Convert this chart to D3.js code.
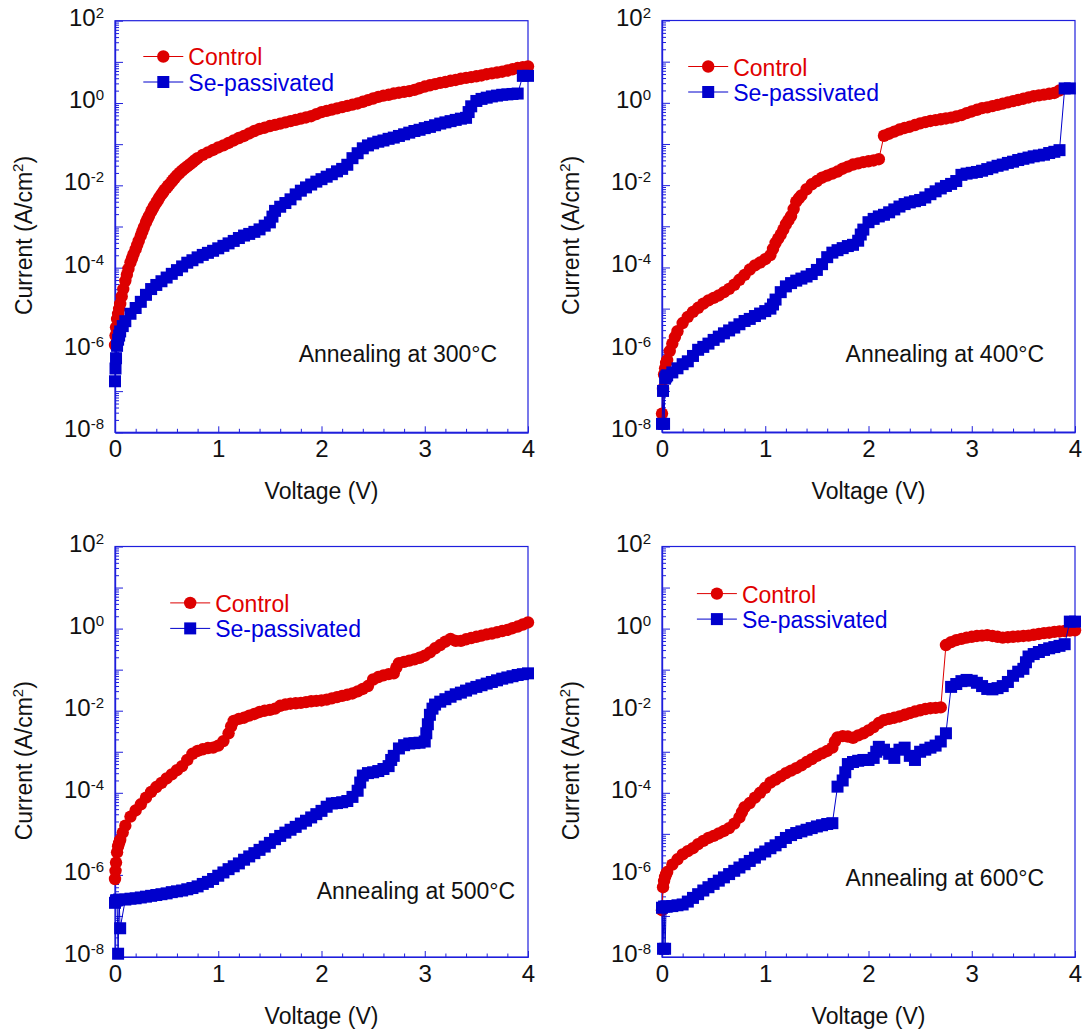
<!DOCTYPE html>
<html>
<head>
<meta charset="utf-8">
<title>J-V curves</title>
<script src="https://cdn.jsdelivr.net/npm/d3@7"></script>
<style>
  body { margin: 0; background: #fff; }
  text { font-family: Arial, "Liberation Sans", Helvetica, sans-serif; }
</style>
</head>
<body>
<div id="chart"></div>
<script>
// voltage grid shared by every sweep (V)
var volts = [0, 0.01, 0.02, 0.03, 0.04, 0.05,
  0.1, 0.15, 0.2, 0.25, 0.3, 0.35, 0.4, 0.45, 0.5, 0.55,
  0.6, 0.65, 0.7, 0.75, 0.8, 0.85, 0.9, 0.95, 1.0, 1.05,
  1.1, 1.15, 1.2, 1.25, 1.3, 1.35, 1.4, 1.45, 1.5, 1.55,
  1.6, 1.65, 1.7, 1.75, 1.8, 1.85, 1.9, 1.95, 2.0, 2.05,
  2.1, 2.15, 2.2, 2.25, 2.3, 2.35, 2.4, 2.45, 2.5, 2.55,
  2.6, 2.65, 2.7, 2.75, 2.8, 2.85, 2.9, 2.95, 3.0, 3.05,
  3.1, 3.15, 3.2, 3.25, 3.3, 3.35, 3.4, 3.45, 3.5, 3.55,
  3.6, 3.65, 3.7, 3.75, 3.8, 3.85, 3.9, 3.95, 4.0];

// current density, stored as log10(J / A cm^-2)
var ctrl300 = [-5.88, -5.45, -5.25, -5.12, -5.0, -4.88,
  -4.32, -3.87, -3.55, -3.22, -2.9, -2.64, -2.42, -2.22, -2.06, -1.91,
  -1.76, -1.64, -1.54, -1.44, -1.34, -1.26, -1.2, -1.14, -1.08, -1.03,
  -0.97, -0.91, -0.85, -0.8, -0.74, -0.68, -0.63, -0.6, -0.56, -0.53,
  -0.5, -0.47, -0.44, -0.41, -0.38, -0.35, -0.32, -0.27, -0.22, -0.19,
  -0.16, -0.13, -0.1, -0.07, -0.04, -0.01, 0.03, 0.07, 0.11, 0.15,
  0.18, 0.2, 0.23, 0.25, 0.27, 0.29, 0.32, 0.36, 0.4, 0.43,
  0.46, 0.49, 0.51, 0.54, 0.56, 0.59, 0.61, 0.63, 0.65, 0.67,
  0.7, 0.72, 0.74, 0.76, 0.79, 0.82, 0.85, 0.87, 0.89];
var sep300 = [-6.76, -6.2, -5.9, -5.75, -5.65, -5.55,
  -5.3, -5.12, -4.98, -4.83, -4.66, -4.52, -4.42, -4.33, -4.24, -4.15,
  -4.06, -3.97, -3.88, -3.82, -3.75, -3.69, -3.64, -3.59, -3.53, -3.47,
  -3.41, -3.35, -3.28, -3.22, -3.18, -3.13, -3.07, -2.98, -2.9, -2.62,
  -2.52, -2.43, -2.34, -2.22, -2.13, -2.05, -1.98, -1.91, -1.85, -1.79,
  -1.73, -1.66, -1.6, -1.5, -1.34, -1.22, -1.1, -1.03, -0.98, -0.94,
  -0.91, -0.87, -0.84, -0.8, -0.76, -0.72, -0.68, -0.65, -0.61, -0.58,
  -0.54, -0.5, -0.47, -0.44, -0.41, -0.38, -0.36, -0.08, 0.05, 0.1,
  0.13, 0.16, 0.18, 0.2, 0.21, 0.22, 0.23, 0.66, 0.66];

var ctrl400 = [-7.55, -6.95, -6.6, -6.45, -6.32, -6.25,
  -5.85, -5.55, -5.35, -5.2, -5.08, -4.98, -4.88, -4.8, -4.74, -4.68,
  -4.6, -4.52, -4.42, -4.3, -4.18, -4.05, -3.95, -3.88, -3.8, -3.7,
  -3.4, -3.2, -2.95, -2.75, -2.4, -2.25, -2.1, -1.98, -1.9, -1.82,
  -1.77, -1.72, -1.67, -1.6, -1.55, -1.5, -1.47, -1.44, -1.42, -1.4,
  -1.37, -0.8, -0.75, -0.7, -0.65, -0.61, -0.58, -0.54, -0.5, -0.47,
  -0.44, -0.42, -0.4, -0.38, -0.36, -0.33, -0.3, -0.25, -0.21, -0.17,
  -0.13, -0.11, -0.08, -0.05, -0.02, 0.01, 0.04, 0.07, 0.1, 0.13,
  0.16, 0.18, 0.2, 0.22, 0.24, 0.3, null, null, null];
var sep400 = [-7.8, -7.0, -7.8, -6.7, -6.65, -6.62,
  -6.55, -6.45, -6.35, -6.28, -6.15, -6.0, -5.93, -5.85, -5.76, -5.68,
  -5.6, -5.53, -5.46, -5.38, -5.3, -5.25, -5.18, -5.12, -5.06, -5.0,
  -4.78, -4.6, -4.46, -4.38, -4.32, -4.27, -4.22, -4.16, -4.06, -3.92,
  -3.75, -3.64, -3.58, -3.53, -3.48, -3.45, -3.35, -3.08, -2.9, -2.82,
  -2.76, -2.72, -2.66, -2.59, -2.52, -2.46, -2.42, -2.39, -2.36, -2.3,
  -2.22, -2.15, -2.08, -2.02, -1.97, -1.9, -1.75, -1.72, -1.7, -1.68,
  -1.65, -1.61, -1.57, -1.53, -1.5, -1.46, -1.43, -1.39, -1.36, -1.33,
  -1.3, -1.28, -1.26, -1.22, -1.19, -1.15, 0.35, 0.35, null];

var ctrl500 = [-6.1, -5.7, -5.45, -5.3, -5.22, -5.15,
  -4.8, -4.58, -4.43, -4.28, -4.12, -3.98, -3.86, -3.76, -3.65, -3.55,
  -3.45, -3.35, -3.2, -3.05, -2.98, -2.94, -2.91, -2.9, -2.85, -2.74,
  -2.55, -2.25, -2.2, -2.17, -2.12, -2.08, -2.03, -2.0, -1.98, -1.95,
  -1.88, -1.85, -1.83, -1.82, -1.81, -1.79, -1.77, -1.76, -1.75, -1.73,
  -1.7, -1.67, -1.64, -1.61, -1.58, -1.53, -1.47, -1.4, -1.24, -1.18,
  -1.14, -1.11, -1.09, -0.84, -0.81, -0.78, -0.75, -0.71, -0.66, -0.58,
  -0.48, -0.4, -0.32, -0.25, -0.3, -0.3, -0.26, -0.23, -0.2, -0.17,
  -0.14, -0.12, -0.09, -0.06, -0.03, 0.01, 0.05, 0.1, 0.15];
var sep500 = [-6.68, -6.62, -6.62, -7.92, -6.6, -7.3,
  -6.6, -6.58, -6.57, -6.55, -6.53, -6.51, -6.49, -6.47, -6.45, -6.42,
  -6.4, -6.38, -6.35, -6.32, -6.28, -6.22, -6.17, -6.1, -6.02, -5.94,
  -5.86, -5.79, -5.72, -5.63, -5.55, -5.47, -5.39, -5.31, -5.22, -5.13,
  -5.05, -4.97, -4.9, -4.83, -4.75, -4.68, -4.6, -4.52, -4.44, -4.34,
  -4.26, -4.25, -4.23, -4.2, -4.1, -3.95, -3.58, -3.52, -3.5, -3.47,
  -3.42, -3.35, -3.1, -2.92, -2.84, -2.8, -2.79, -2.78, -2.75, -2.1,
  -1.85, -1.78, -1.72, -1.66, -1.6, -1.56, -1.51, -1.46, -1.42, -1.38,
  -1.34, -1.3, -1.26, -1.22, -1.19, -1.16, -1.13, -1.11, -1.09];

var ctrl600 = [-6.86, -6.3, -6.15, -6.05, -5.98, -5.93,
  -5.75, -5.62, -5.5, -5.42, -5.35, -5.25, -5.17, -5.1, -5.05, -4.99,
  -4.93, -4.86, -4.75, -4.6, -4.35, -4.25, -4.12, -4.0, -3.88, -3.75,
  -3.68, -3.6, -3.52, -3.46, -3.4, -3.33, -3.25, -3.18, -3.1, -3.04,
  -2.98, -2.9, -2.65, -2.62, -2.63, -2.66, -2.6, -2.55, -2.48, -2.4,
  -2.3, -2.23, -2.2, -2.17, -2.14, -2.1, -2.06, -2.02, -1.99, -1.96,
  -1.94, -1.93, -1.92, -0.4, -0.33, -0.28, -0.25, -0.22, -0.2, -0.18,
  -0.17, -0.16, -0.18, -0.2, -0.22, -0.21, -0.2, -0.19, -0.18, -0.17,
  -0.15, -0.13, -0.11, -0.1, -0.08, -0.07, -0.06, -0.05, -0.04];
var sep600 = [-6.8, -7.8, -6.77, -7.8, -6.77, -6.77,
  -6.76, -6.74, -6.72, -6.65, -6.56, -6.47, -6.38, -6.3, -6.22, -6.14,
  -6.06, -5.98, -5.9, -5.82, -5.74, -5.66, -5.58, -5.5, -5.43, -5.35,
  -5.28, -5.2, -5.1, -5.03, -4.98, -4.94, -4.9, -4.86, -4.82, -4.79,
  -4.76, -4.74, -3.85, -3.7, -3.3, -3.25, -3.22, -3.2, -3.2, -3.15,
  -2.88, -2.95, -3.05, -3.15, -2.95, -2.9, -3.1, -3.2, -3.0, -2.95,
  -2.9, -2.85, -2.75, -2.55, -1.42, -1.35, -1.28, -1.25, -1.27, -1.32,
  -1.4, -1.47, -1.48, -1.45, -1.4, -1.3, -1.15, -1.05, -0.98, -0.68,
  -0.62, -0.57, -0.52, -0.48, -0.45, -0.42, -0.38, 0.17, 0.17];

// extra readings [V, log10 J] where the sweeps climb steeply
var ctrl300Extra = [[0.005, -5.65], [0.065, -4.7], [0.08, -4.52], [0.115, -4.17], [0.13, -4.03],
  [0.165, -3.77], [0.18, -3.67], [0.215, -3.45], [0.23, -3.35], [0.265, -3.12], [0.28, -3.02],
  [0.315, -2.82], [0.33, -2.74], [0.365, -2.57], [0.38, -2.5], [0.415, -2.36], [0.43, -2.29],
  [0.465, -2.17], [0.48, -2.11], [0.515, -2.01], [0.53, -1.97], [0.565, -1.86], [0.58, -1.82],
  [0.625, -1.7], [0.675, -1.59], [0.725, -1.49], [0.775, -1.39]];
var sep300Extra = [[0.005, -6.45], [0.075, -5.42], [1.525, -2.76], [3.425, -0.22]];
var ctrl400Extra = [[0.075, -6.03], [0.125, -5.69], [1.075, -3.55], [1.125, -3.3], [1.175, -3.08],
  [1.225, -2.85], [1.275, -2.58], [1.325, -2.32]];
var sep400Extra = [[1.075, -4.9], [1.925, -3.2]];
var ctrl500Extra = [[0.005, -5.9], [0.075, -4.97], [1.125, -2.38], [2.725, -0.95]];
var sep500Extra = [[2.375, -3.75], [2.675, -3.2], [3.015, -2.55], [3.03, -2.33], [3.075, -1.95]];
var ctrl600Extra = [[0.775, -4.47], [1.675, -2.75]];
var sep600Extra = [[1.775, -3.5], [2.075, -3.0], [3.525, -0.82]];

var notes = ['Annealing at 300\u00b0C', 'Annealing at 400\u00b0C', 'Annealing at 500\u00b0C', 'Annealing at 600\u00b0C'];
var seriesNames = ['Control', 'Se-passivated'];
var xTicks = [0, 1, 2, 3, 4];
var yLabelExps = [-8, -6, -4, -2, 0, 2];

var chart = (function() {

  var config = {
    width: 1084,
    height: 1034,
    red: '#dd0000',
    blue: '#0000cc',
    axis: '#1f1fdc',
    font: 23,
    radius: 6.2,
    square: 12
  };

  // plot boxes and in-box offsets of legend and note
  var layout = [
    {left: 115, top: 20.7, w: 413, h: 411.6, legend: [48.3, 35.8], note: [183.7, 341.6]},
    {left: 662, top: 20.5, w: 413, h: 411.6, legend: [46.2, 46], note: [183.6, 341.7]},
    {left: 115, top: 546.5, w: 413, h: 410.5, legend: [75.2, 56.4], note: [201.7, 352.5]},
    {left: 662, top: 546.5, w: 413, h: 410.5, legend: [54.9, 47.1], note: [183.6, 339.9]}
  ];

  var svg;

  function init() {
    svg = d3.select('#chart').append('svg')
      .attr('width', config.width)
      .attr('height', config.height);

    var sets = [
      [ctrl300, ctrl300Extra, sep300, sep300Extra],
      [ctrl400, ctrl400Extra, sep400, sep400Extra],
      [ctrl500, ctrl500Extra, sep500, sep500Extra],
      [ctrl600, ctrl600Extra, sep600, sep600Extra]
    ];
    sets.forEach(function(s, i) {
      drawPanel(layout[i], toPoints(s[0], s[1]), toPoints(s[2], s[3]), notes[i]);
    });
  }

  function toPoints(vals, extra) {
    var pts = volts.map(function(v, i) { return [v, vals[i]]; })
      .filter(function(d) { return d[1] !== null && d[1] !== undefined; });
    return pts.concat(extra).sort(function(a, b) { return a[0] - b[0]; });
  }

  function drawPanel(p, ctrl, sep, note) {
    var g = svg.append('g').attr('transform', 'translate(' + p.left + ',' + p.top + ')');

    var x = d3.scaleLinear().domain([0, 4]).range([0, p.w]);
    var y = d3.scaleLog().domain([1e-8, 1e2]).range([p.h, 0]);

    drawAxes(g, p, x, y);

    drawSeries(g, x, y, ctrl, config.red, 'circle');
    drawSeries(g, x, y, sep, config.blue, 'square');

    drawLegend(g, p);

    g.append('text')
      .attr('x', p.note[0])
      .attr('y', p.note[1])
      .attr('font-size', config.font)
      .attr('fill', '#111')
      .text(note);
  }

  function drawAxes(g, p, x, y) {
    var all = y.ticks(20);
    var major = all.filter(function(d) { return Math.abs(Math.log10(d) - Math.round(Math.log10(d))) < 1e-9; });
    var minor = all.filter(function(d) { return major.indexOf(d) < 0; });

    // y ticks point into the plot
    g.append('g').call(d3.axisLeft(y).tickValues(minor).tickSize(-4).tickSizeOuter(0).tickFormat(''))
      .call(styleAxis);
    g.append('g').call(d3.axisLeft(y).tickValues(major).tickSize(-8).tickSizeOuter(0).tickFormat(''))
      .call(styleAxis);

    var xMinor = d3.range(0, 4.01, 0.2).filter(function(d) { return Math.abs(d - Math.round(d)) > 1e-6; });
    g.append('g').attr('transform', 'translate(0,' + p.h + ')')
      .call(d3.axisBottom(x).tickValues(xMinor).tickSize(-3.5).tickSizeOuter(0).tickFormat(''))
      .call(styleAxis);
    var xa = g.append('g').attr('transform', 'translate(0,' + p.h + ')')
      .call(d3.axisBottom(x).tickValues(xTicks).tickSize(-6).tickSizeOuter(0).tickPadding(8).tickFormat(d3.format('d')))
      .call(styleAxis);
    xa.selectAll('text')
      .attr('font-size', 24)
      .attr('font-family', 'Arial, "Liberation Sans", Helvetica, sans-serif')
      .attr('fill', '#111');

    // frame
    g.append('rect')
      .attr('width', p.w)
      .attr('height', p.h)
      .attr('fill', 'none')
      .attr('stroke', config.axis)
      .attr('stroke-width', 1.2);

    // decade labels 10^n
    yLabelExps.forEach(function(e) {
      var t = g.append('text')
        .attr('x', -11)
        .attr('y', y(Math.pow(10, e)) + 5)
        .attr('text-anchor', 'end')
        .attr('fill', '#111')
        .attr('font-size', 24);
      t.append('tspan').text('10');
      t.append('tspan').attr('dy', -8).attr('font-size', 15).text(e);
    });

    g.append('text')
      .attr('x', p.w / 2)
      .attr('y', p.h + 67)
      .attr('text-anchor', 'middle')
      .attr('font-size', config.font)
      .attr('fill', '#111')
      .text('Voltage (V)');

    var yl = g.append('text')
      .attr('transform', 'translate(-83,' + (p.h / 2 + 9) + ') rotate(-90)')
      .attr('text-anchor', 'middle')
      .attr('font-size', config.font)
      .attr('fill', '#111');
    yl.append('tspan').text('Current (A/cm');
    yl.append('tspan').attr('dy', -9).attr('font-size', 15).text('2');
    yl.append('tspan').attr('dy', 9).text(')');
  }

  function styleAxis(sel) {
    sel.select('.domain').attr('stroke', config.axis).attr('stroke-width', 1.2);
    sel.selectAll('.tick line').attr('stroke', config.axis).attr('stroke-width', 1);
  }

  function drawSeries(g, x, y, pts, color, shape) {
    var line = d3.line()
      .x(function(d) { return x(d[0]); })
      .y(function(d) { return y(Math.pow(10, d[1])); });

    g.append('path')
      .datum(pts)
      .attr('d', line)
      .attr('fill', 'none')
      .attr('stroke', color)
      .attr('stroke-width', 1);

    if (shape === 'circle') {
      g.append('g').selectAll('circle').data(pts).enter().append('circle')
        .attr('cx', function(d) { return x(d[0]); })
        .attr('cy', function(d) { return y(Math.pow(10, d[1])); })
        .attr('r', config.radius)
        .attr('fill', color);
    } else {
      var s = config.square;
      g.append('g').selectAll('rect').data(pts).enter().append('rect')
        .attr('x', function(d) { return x(d[0]) - s / 2; })
        .attr('y', function(d) { return y(Math.pow(10, d[1])) - s / 2; })
        .attr('width', s)
        .attr('height', s)
        .attr('fill', color);
    }
  }

  function drawLegend(g, p) {
    var lx = p.legend[0], ly = p.legend[1];
    var colors = [config.red, config.blue];
    var textColors = ['#e00000', '#0000dd'];

    seriesNames.forEach(function(name, i) {
      var yy = ly + i * 25.5;
      g.append('line')
        .attr('x1', lx - 20).attr('x2', lx + 20)
        .attr('y1', yy).attr('y2', yy)
        .attr('stroke', colors[i])
        .attr('stroke-width', 1);
      if (i === 0) {
        g.append('circle').attr('cx', lx).attr('cy', yy).attr('r', config.radius).attr('fill', colors[i]);
      } else {
        g.append('rect')
          .attr('x', lx - config.square / 2).attr('y', yy - config.square / 2)
          .attr('width', config.square).attr('height', config.square)
          .attr('fill', colors[i]);
      }
      g.append('text')
        .attr('x', lx + 25)
        .attr('y', yy + 9)
        .attr('font-size', config.font)
        .attr('fill', textColors[i])
        .text(name);
    });
  }

  return {
    init: init
  };

})();

(function() {
  chart.init();
})();
</script>
</body>
</html>
